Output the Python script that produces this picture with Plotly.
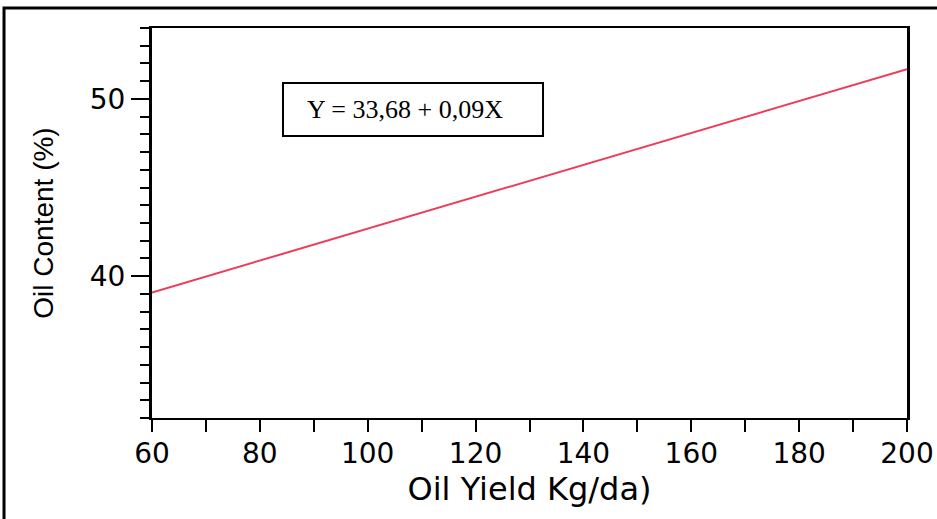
import plotly.graph_objects as go

# Fitted regression line: Y = 33,68 + 0,09X over the observed yield range
oil_yield = [60, 200]
oil_content = [39.08, 51.68]

x_range = [60, 200]
y_range = [32, 54]
equation = "Y = 33,68 + 0,09X"

fig = go.Figure()
fig.add_trace(go.Scatter(
    x=oil_yield, y=oil_content, mode="lines",
    line=dict(color="#EE3B5B", width=2),
    showlegend=False, hoverinfo="skip",
))

tick_font = dict(family="DejaVu Sans", size=28, color="black")

fig.update_xaxes(
    range=x_range, tick0=60, dtick=20, automargin=False,
    ticks="outside", ticklen=12, tickwidth=2, tickcolor="black",
    minor=dict(dtick=10, ticks="outside", ticklen=12, tickwidth=2, tickcolor="black"),
    showline=True, linewidth=2, linecolor="black", mirror=True,
    showgrid=False, zeroline=False, tickfont=tick_font, ticklabelstandoff=-3,
    title=dict(text="Oil Yield Kg/da)", font=dict(family="DejaVu Sans", size=32, color="black"),
               standoff=9),
)
fig.update_yaxes(
    range=y_range, tick0=0, dtick=10, automargin=False,
    ticks="outside", ticklen=18, tickwidth=2, tickcolor="black",
    minor=dict(dtick=1, ticks="outside", ticklen=9, tickwidth=2, tickcolor="black"),
    showline=True, linewidth=3, linecolor="black", mirror=True,
    showgrid=False, zeroline=False, tickfont=tick_font,
    title=dict(text="Oil Content (%)", font=dict(family="Liberation Sans", size=28, color="black"),
               standoff=28),
)

# Equation box
fig.add_shape(type="rect", xref="x domain", yref="y domain",
              x0=0.1735, x1=0.5179, y0=0.723, y1=0.859,
              line=dict(color="black", width=2), fillcolor="white", layer="below")
fig.add_annotation(text=equation, xref="x domain", yref="y domain",
                   x=0.335, y=0.79, xanchor="center", yanchor="middle", showarrow=False,
                   font=dict(family="Liberation Serif", size=26, color="black"))

# Outer frame around the whole figure
fig.add_shape(type="rect", xref="paper", yref="paper",
              x0=-0.196, x1=1.06, y0=-0.3, y1=1.0513,
              line=dict(color="black", width=3), fillcolor="rgba(0,0,0,0)")

fig.update_layout(
    width=937, height=519,
    margin=dict(l=152, r=30, t=28, b=101),
    paper_bgcolor="white", plot_bgcolor="white",
)

fig.write_html("out.html")
